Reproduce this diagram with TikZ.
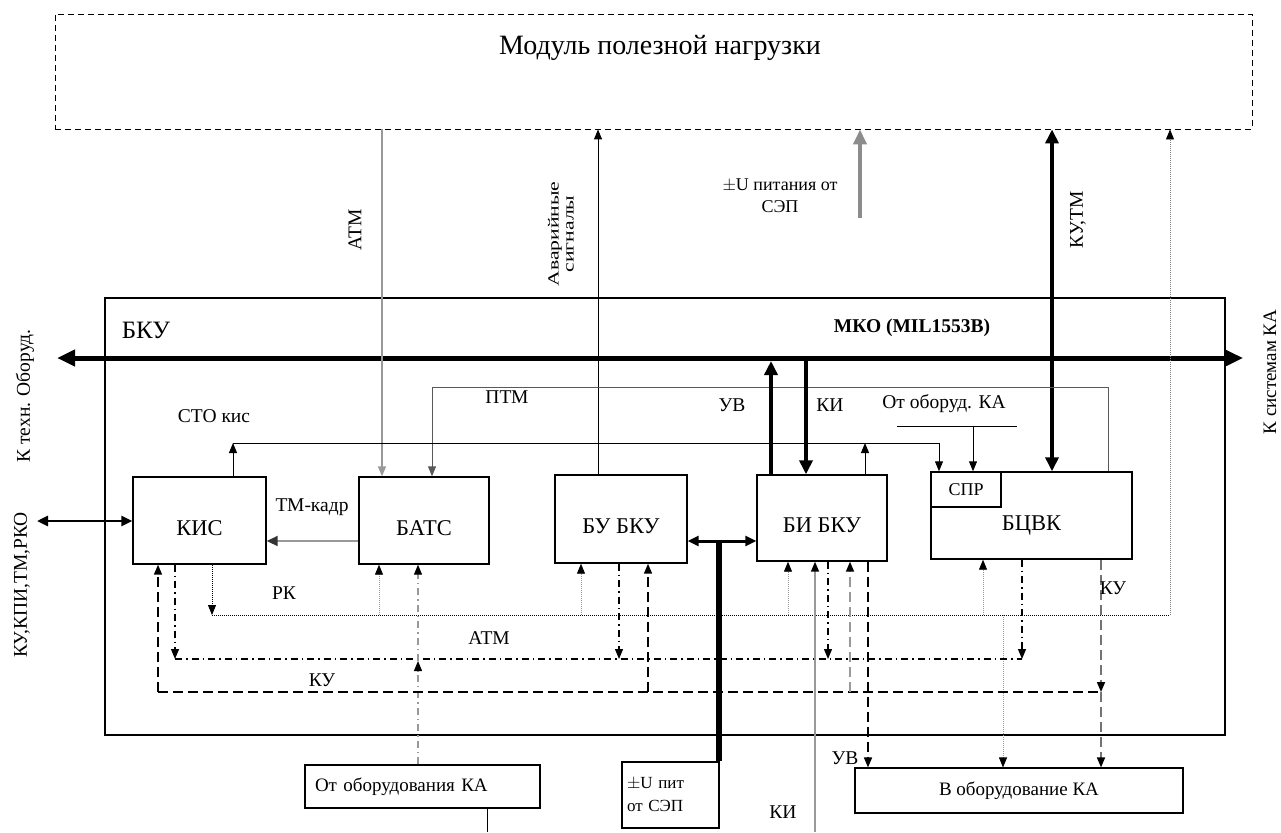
\documentclass[tikz,border=0pt]{standalone}
\usepackage{fontspec}
\setmainfont{Liberation Serif}
\usetikzlibrary{arrows.meta}
\begin{document}
\begin{tikzpicture}[x=1pt,y=-1pt,
  blk/.style={draw,line width=1.4pt,inner sep=0pt,text height=29pt,text depth=0pt,font=\fontsize{22.5}{25}\selectfont},
  obox/.style={draw,line width=1.1pt,inner sep=0pt},
  lbl/.style={inner sep=0pt,font=\fontsize{19.5}{22}\selectfont},
  sl/.style={line width=1pt},
  ar/.style={-{Triangle[length=10pt,width=8pt]}},
  arb/.style={-{Triangle[length=10pt,width=8pt,color=black]}},
  bar/.style={-{Triangle[length=14pt,width=13pt]}},
  dbar/.style={{Triangle[length=14pt,width=13pt]}-{Triangle[length=14pt,width=13pt]}},
  dsm/.style={{Triangle[length=11pt,width=10pt]}-{Triangle[length=11pt,width=10pt]}},
  dotl/.style={line width=0.9pt,dash pattern=on 1pt off 1pt},
  dd/.style={line width=1.2pt,dash pattern=on 7pt off 4pt on 1.5pt off 4pt},
  ds/.style={line width=1.6pt,dash pattern=on 10pt off 5pt},
  gr/.style={draw=black!40},
]
\useasboundingbox (0,0) rectangle (1281,832);

% module box
\node[draw,line width=0.9pt,dash pattern=on 6pt off 4pt,minimum width=1197pt,minimum height=115pt,inner sep=0pt] (mod) at (653.5,71.5) {};
\node[font=\fontsize{28}{32}\selectfont] (modt) at (660,48) {Модуль полезной нагрузки};

% BKU frame
\node[draw,line width=2.6pt,minimum width=1120pt,minimum height=437pt,inner sep=0pt] (bku) at (665,516.5) {};
\node[font=\fontsize{25}{28}\selectfont] (bkut) at (146,330) {БКУ};

% bus
\coordinate (busL) at (57,358);
\coordinate (busR) at (1243,358);
\draw[line width=5pt,{Triangle[length=18pt,width=16pt]}-{Triangle[length=18pt,width=16pt]}] (busL) -- (busR);
\node[lbl,font=\bfseries\fontsize{19.5}{22}\selectfont] (mko) at (912,328) {МКО (MIL1553B)};

% side labels
\node[lbl,rotate=90] (ltex) at (25,396) {К техн. Оборуд.};
\node[lbl,rotate=90] (lku) at (22,585) {КУ,КПИ,ТМ,РКО};
\node[lbl,rotate=90,font=\fontsize{19}{22}\selectfont] (lsys) at (1270,372) {К системам КА};

% blocks
\node[blk,minimum width=133pt,minimum height=87pt] (kis) at (199.5,520.5) {КИС};
\node[blk,minimum width=130pt,minimum height=87pt] (bats) at (424,520.5) {БАТС};
\node[blk,minimum width=132pt,minimum height=88pt] (bu) at (621,519) {БУ БКУ};
\node[blk,minimum width=130pt,minimum height=86pt] (bi) at (822,518) {БИ БКУ};
\node[blk,minimum width=201pt,minimum height=87pt] (bcvk) at (1031.5,515.5) {БЦВК};
\node[blk,text height=12pt,minimum width=70pt,minimum height=35pt,font=\fontsize{18}{20}\selectfont] (spr) at (966,489.5) {СПР};

% bottom boxes
\node[obox,minimum width=235pt,minimum height=43pt,text width=215pt,align=left,font=\fontsize{19}{22}\selectfont] (ot) at (422.5,786.5) {От оборудования КА};
\node[obox,minimum width=97pt,minimum height=66pt,text width=87pt,align=left,font=\fontsize{17}{23}\selectfont] (pu) at (670.5,795) {$\pm$U пит\\от СЭП};
\node[obox,minimum width=328pt,minimum height=45pt,font=\fontsize{19}{22}\selectfont] (vob) at (1019,790.5) {В оборудование КА};

% --- upper connectors ---
\draw[gr,line width=1.6pt,-{Triangle[length=10pt,width=8pt]}] (mod.south -| 382,0) -- (bats.north -| 382,0);
\node[lbl,rotate=90] (latm) at (355,230) {АТМ};

\draw[sl,ar] (bu.north -| 598,0) -- (mod.south -| 598,0);
\node[lbl,rotate=90,font=\fontsize{15.5}{15}\selectfont,align=center] (lav) at (561,234) {\scalebox{1.4}[1]{Аварийные}\\\scalebox{1.4}[1]{сигналы}};

\coordinate (pw) at (860,218);
\draw[draw=black!45,line width=4.5pt,-{Triangle[length=15pt,width=13pt,color=black!45]}] (pw) -- (mod.south -| pw);
\node[lbl,align=center,font=\fontsize{18}{22}\selectfont] (lpw) at (780,196) {$\pm$U питания от\\СЭП};

\draw[line width=4pt,dbar] (mod.south -| 1052,0) -- (bcvk.north -| 1052,0);
\node[lbl,rotate=90] (lkutm) at (1078,220) {КУ,ТМ};

% PTM
\draw[sl,draw=black!65,ar] (bcvk.north -| 1108,0) |- (432,387) -- (bats.north -| 432,0);
\node[lbl] (lptm) at (507,397) {ПТМ};

% STO kis
\coordinate (sto) at (233,443);
\draw[sl,ar] (kis.north -| sto) -- (sto);
\draw[sl,ar] (sto) -| (spr.north -| 939,0);
\draw[sl,ar] (bi.north -| 865,0) -- (865,443);
\node[lbl] (lsto) at (214,416) {СТО кис};

% from equipment to SPR
\coordinate (oo1) at (897,426);
\coordinate (oo2) at (1017,426);
\draw[sl] (oo1) -- (oo2);
\draw[sl,ar] (973,426) -- (spr.north -| 973,0);
\node[lbl] (loo) at (944,404) {От оборуд. КА};

% UV / KI thick
\draw[line width=4.5pt,bar] (bi.north -| 771,0) -- (771,361);
\draw[line width=4.5pt,bar] (806,361) -- (bi.north -| 806,0);
\node[lbl] (luv) at (732,405) {УВ};
\node[lbl] (lki) at (830,405) {КИ};

% TM frame
\draw[gr,line width=1.8pt,-{Triangle[length=11pt,width=10pt,color=black!80]}] (bats.west |- 0,541) -- (kis.east |- 0,541);
\node[lbl] (ltmk) at (312,507) {ТМ-кадр};

% KIS external
\coordinate (kext) at (37,521);
\draw[line width=2.6pt,dsm] (kext) -- (kis.west |- kext);

% BU - BI and power
\draw[line width=3pt,dsm] (bu.east |- 0,541) -- (bi.west |- 0,541);
\draw[line width=5.5pt] (719,541) -- (pu.north -| 719,0);

% --- lower signal lines ---
% RK dotted
\draw[dotl,ar] (kis.south -| 212,0) -- (212,615);
\draw[dotl] (212,615) -- (1170,615);
\draw[dotl,draw=black!50,arb] (1170,615) -- (mod.south -| 1170,0);
\node[lbl] (lrk) at (284,593) {РК};
\draw[dotl,gr,arb] (379,615) -- (bats.south -| 379,0);
\draw[dotl,gr,arb] (581,615) -- (bu.south -| 581,0);
\draw[dotl,gr,arb] (788,615) -- (bi.south -| 788,0);
\draw[dotl,gr,arb] (983,615) -- (bcvk.south -| 983,0);
\draw[dotl,gr,arb] (1003,615) -- (vob.north -| 1003,0);

% ATM dash-dot
\draw[dd,ar] (kis.south -| 175,0) -- (175,659);
\draw[dd] (175,659) -- (1022,659);
\node[lbl] (latm2) at (489,638) {АТМ};
\draw[dd,ar] (bu.south -| 619,0) -- (619,659);
\draw[dd,ar] (bi.south -| 828,0) -- (828,659);
\draw[dd,ar] (bcvk.south -| 1022,0) -- (1022,659);
\draw[dd,gr,arb] (ot.north -| 418,0) -- (418,661);
\draw[dd,gr,arb] (418,661) -- (bats.south -| 418,0);

% KU dashed
\draw[ds,ar] (158,692) -- (kis.south -| 158,0);
\draw[ds] (158,692) -- (1101,692);
\node[lbl] (lku2) at (322,680) {КУ};
\draw[ds,ar] (648,692) -- (bu.south -| 648,0);
\draw[ds,gr,arb] (850,692) -- (bi.south -| 850,0);
\draw[ds,draw=black!55,arb] (bcvk.south -| 1101,0) -- (1101,692);
\draw[ds,draw=black!55,arb] (1101,692) -- (vob.north -| 1101,0);
\node[lbl] (lku3) at (1113,588) {КУ};

% UV out of BI
\draw[ds,ar] (bi.south -| 868,0) -- (vob.north -| 868,0);
\node[lbl] (luv2) at (845,758) {УВ};

% KI in from below
\coordinate (kiin) at (815,832);
\draw[gr,line width=1.6pt,arb] (kiin) -- (bi.south -| kiin);
\node[lbl] (lki2) at (783,812) {КИ};

% from equipment box down
\coordinate (otd) at (487,832);
\draw[sl] (ot.south -| otd) -- (otd);

\end{tikzpicture}
\end{document}
